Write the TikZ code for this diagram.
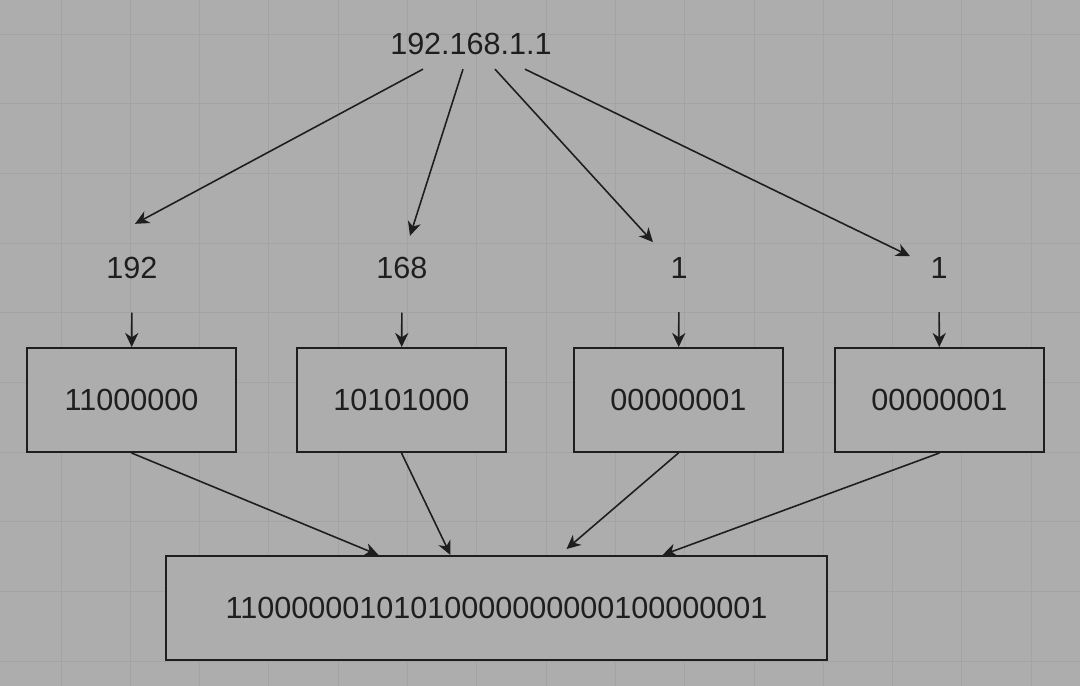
\documentclass[tikz,border=0pt]{standalone}
\usepackage{fontspec}
\setmainfont{Liberation Sans}
\usetikzlibrary{arrows.meta}
\usetikzlibrary{positioning}
\usetikzlibrary{calc}
\definecolor{fond}{HTML}{ADADAD}
\definecolor{grille}{HTML}{A3A3A3}
\definecolor{trait}{HTML}{1E1E1E}
\tikzstyle{nombre}=[text=trait,inner sep=0pt,font=\fontsize{17.4}{20}\selectfont]
\tikzstyle{octet}=[rectangle,draw=trait,line width=1.1pt,fill=fond,
minimum width=4.18cm,minimum height=2.08cm,nombre]
\tikzstyle{resultat}=[octet,minimum width=13.22cm]
\tikzstyle{suite}=[-{Stealth[length=8pt,width=7.5pt,inset=2.5pt]},draw=trait,line width=0.9pt]
\begin{document}
\begin{tikzpicture}[x=0.02cm,y=-0.02cm]
\fill[fond] (0,0) rectangle (1080,686);
\useasboundingbox (0,0) rectangle (1080,686);
%Grille
\foreach \gx in {0,...,14} \draw[color=grille,line width=0.5pt] ({61+69.3*\gx},0) -- ++(0,686);
\foreach \gy in {0,...,9} \draw[color=grille,line width=0.5pt] (0,{34+69.7*\gy}) -- ++(1080,0);
\node[nombre] (ip) at (471,44) {192.168.1.1};
\node[nombre] (d1) at (132,268) {192};
\node[nombre] (d2) at (402,268) {168};
\node[nombre] (d3) at (679,268) {1};
\node[nombre] (d4) at (939,268) {1};
\node[octet] (b1) at (131.5,400) {11000000};
\node[octet] (b2) at (401.5,400) {10101000};
\node[octet] (b3) at (678.5,400) {00000001};
\node[octet] (b4) at (939.5,400) {00000001};
\node[resultat] (res) at (496.5,608) {11000000101010000000000100000001};
%Placement des fleches
\draw[suite] ([shift={(-48,14)}]ip.south) -- ([shift={(3,-33)}]d1.north);
\draw[suite] ([shift={(-8,14)}]ip.south) -- ([shift={(8,-21)}]d2.north);
\draw[suite] ([shift={(24,14)}]ip.south) -- ([shift={(-26,-15)}]d3.north);
\draw[suite] ([shift={(54,14)}]ip.south) -- ([shift={(-29,-1)}]d4.north);
\draw[suite,shorten <=19pt] (d1) -- (b1);
\draw[suite,shorten <=19pt] (d2) -- (b2);
\draw[suite,shorten <=19pt] (d3) -- (b3);
\draw[suite,shorten <=19pt] (d4) -- (b4);
\draw[suite] (b1.south) -- ([xshift=-118*0.02cm]res.north);
\draw[suite] (b2.south) -- ([xshift=-46*0.02cm]res.north);
\draw[suite] (b3.south) -- ([shift={(70,-6)}]res.north);
\draw[suite] (b4.south) -- ([xshift=166*0.02cm]res.north);
\end{tikzpicture}
\end{document}
